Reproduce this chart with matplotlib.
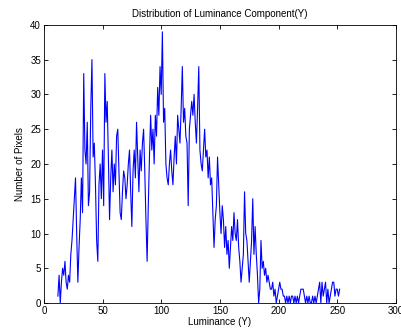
import numpy as np
import matplotlib
matplotlib.use('Agg')
import matplotlib.pyplot as plt

plt.rcParams['font.family'] = ['Liberation Sans', 'DejaVu Sans']

# luminance levels 12..252 and pixel counts
luminance = np.arange(12, 253)
pixels = [
    1, 4, 0, 3, 5, 4, 6, 3, 2, 4,
    3, 7, 9, 12, 15, 18, 10, 3, 8, 12,
    18, 13, 33, 22, 20, 26, 14, 16, 28, 35,
    21, 23, 17, 9, 6, 17, 20, 15, 22, 14,
    33, 26, 29, 21, 12, 18, 22, 16, 20, 17,
    24, 25, 19, 13, 12, 16, 19, 18, 15, 17,
    20, 22, 16, 11, 19, 22, 18, 26, 21, 16,
    22, 19, 23, 25, 19, 12, 6, 14, 21, 27,
    22, 25, 20, 27, 24, 31, 27, 34, 30, 39,
    26, 28, 20, 18, 17, 20, 22, 19, 17,
    21, 24, 20, 27, 25, 23, 28, 34, 26, 28,
    24, 23, 14, 25, 27, 29, 27, 30, 26, 23,
    28, 34, 22, 20, 19, 22, 25, 21, 22, 18,
    21, 17, 18, 13, 8, 12, 14, 21, 17, 13,
    10, 14, 12, 8, 11, 7, 9, 5, 8, 11,
    9, 13, 10, 9, 12, 8, 6, 3, 5, 7,
    16, 10, 9, 6, 3, 6, 9, 15, 7, 11,
    7, 4, 0, 2, 9, 5, 6, 4, 5, 3,
    4, 3, 2, 2, 3, 1, 2, 0, 1, 2,
    3, 2, 2, 1, 1, 0, 1, 0, 1, 0,
    1, 1, 0, 1, 0, 1, 0, 1, 2, 2,
    2, 1, 0, 1, 0, 1, 0, 0, 1, 0,
    1, 0, 1, 2, 3, 0, 3, 1, 2, 3,
    0, 2, 0, 1, 2, 3, 3, 1, 2, 2,
    1, 2,
]

fig = plt.figure(figsize=(4.02, 3.36), dpi=100)
ax = fig.add_axes([0.109, 0.098, 0.876, 0.828])
ax.plot(luminance, pixels, color='blue', linewidth=0.8)

ax.set_xlim(0, 300)
ax.set_ylim(0, 40)
ax.set_xticks(range(0, 301, 50))
ax.set_yticks(range(0, 41, 5))
ax.tick_params(direction='in', length=3, width=0.6, labelsize=7,
               top=True, right=True, pad=2)
for s in ax.spines.values():
    s.set_linewidth(0.6)

ax.set_title('Distribution of Luminance Component(Y)', fontsize=7, pad=6)
ax.set_xlabel('Luminance (Y)', fontsize=7, labelpad=1)
ax.set_ylabel('Number of Pixels', fontsize=7, labelpad=4)

plt.savefig('out.png', dpi=100)
